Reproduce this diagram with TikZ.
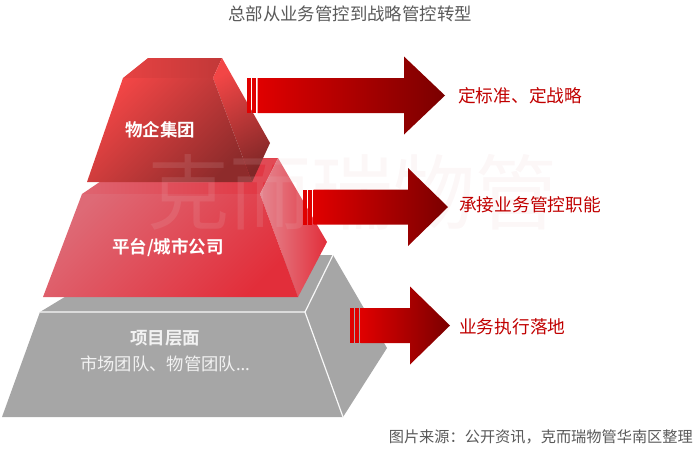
\documentclass[tikz,border=0pt]{standalone}
\usepackage{fontspec}
\setmainfont{Noto Sans CJK SC}[BoldFont={Noto Sans CJK SC Bold}]
\newfontfamily\latinfont{Noto Sans}
\usetikzlibrary{positioning}
\definecolor{arwred}{HTML}{E00000}
\definecolor{arwdark}{HTML}{7A0000}
\definecolor{txtred}{HTML}{C00000}
\definecolor{txtgray}{HTML}{595959}
\definecolor{lvlgray}{HTML}{A6A6A6}
\definecolor{wmpink}{HTML}{E8C4C8}
\definecolor{topred}{HTML}{F24646}
\definecolor{topdark}{HTML}{8E2B2B}
\definecolor{midpink}{HTML}{DE6A76}
\definecolor{midred}{HTML}{E22E3A}
\tikzset{
  x=1pt,y=1pt,
  ttl/.style={font=\fontsize{17.4}{20}\selectfont,text=txtgray,inner sep=0pt},
  srclbl/.style={font=\fontsize{15.2}{18}\selectfont,text=txtgray,inner sep=0pt,anchor=east},
  goallbl/.style={font=\fontsize{17.7}{20}\selectfont,text=txtred,inner sep=0pt,anchor=west},
  lvllbl/.style={font=\bfseries\fontsize{17.5}{20}\selectfont,text=white,inner sep=0pt},
  lvlsub/.style={font=\fontsize{17.3}{20}\selectfont,text=white!95!black,inner sep=0pt},
  wmark/.style={font=\fontsize{82}{90}\selectfont,text=wmpink,text opacity=0.14,inner sep=0pt},
  topfront/.style={top color=topred,bottom color=topdark,shading angle=45},
  toptop/.style={left color=topred!95!black,right color=topred!80!black},
  topside/.style={top color=topred,bottom color=topdark!90!black,shading angle=30},
  midfront/.style={top color=midpink,bottom color=midred,shading angle=45},
  midtop/.style={left color=midpink!90!midred,right color=midred!90!midpink},
  midside/.style={left color=midpink!80!white,right color=midred},
  grayface/.style={fill=lvlgray},
  grayedge/.style={draw=white!92!lvlgray,line width=1.2pt},
  arwbody/.style={left color=arwred,right color=arwdark},
  arwbar/.style={fill=arwred},
}

\begin{document}
\begin{tikzpicture}
  \useasboundingbox (0,0) rectangle (700,-448);
  \node[ttl] (title) at (350,-14) {总部从业务管控到战略管控转型};
  % bottom level
  \fill[grayface] (40,-312) -- (134,-255) -- (333,-255) -- (305,-312) -- cycle;
  \fill[grayface] (305,-312) -- (333,-255) -- (387,-348) -- (343,-417) -- cycle;
  \fill[grayface] (40,-312) -- (305,-312) -- (343,-417) -- (2,-417) -- cycle;
  \draw[grayedge] (40,-312) -- (305,-312) -- (343,-417) (305,-312) -- (333,-255);
  % middle level
  \shade[midtop] (82,-194) -- (135,-158) -- (278,-158) -- (260,-194) -- cycle;
  \shade[midside] (260,-194) -- (278,-158) -- (327,-242) -- (298,-297) -- cycle;
  \shade[midfront] (82,-194) -- (260,-194) -- (298,-297) -- (43,-297) -- cycle;
  % top level
  \shade[toptop] (123,-78) -- (148,-58) -- (222,-58) -- (213,-78) -- cycle;
  \shade[topside] (213,-78) -- (222,-58) -- (270,-143) -- (252,-182) -- cycle;
  \shade[topfront] (123,-78) -- (213,-78) -- (252,-182) -- (87,-182) -- cycle;
  \node[wmark] (wm) at (352,-192) {克而瑞物管};
  \node[lvllbl] (lvlA) at (160,-130) {物企集团};
  \node[lvllbl] (lvlB) at (168,-247) {平台/城市公司};
  \node[lvllbl,text=white!95!black] (lvlC) at (165,-338) {项目层面};
  \node[lvlsub] (lvlCsub) at (165,-364) {市场团队、物管团队{\latinfont …}};
  % arrows
  \foreach \bx/\hx/\tx/\cy in {247/404/445/95.5,303/408/448/207,350/410/450/325.5}{
    \fill[arwbar] ({\bx},{17.5-\cy}) rectangle ({\bx+3.5},{-17.5-\cy});
    \fill[arwbar] ({\bx+5},{17.5-\cy}) rectangle ({\bx+9},{-17.5-\cy});
    \shade[arwbody] ({\bx+10.5},{17.5-\cy}) -- ({\hx},{17.5-\cy}) -- ({\hx},{39-\cy})
      -- ({\tx},{-\cy}) -- ({\hx},{-39-\cy}) -- ({\hx},{-17.5-\cy})
      -- ({\bx+10.5},{-17.5-\cy}) -- cycle;
  }
  \node[goallbl] (goalA) at (458,-96) {定标准、定战略};
  \node[goallbl] (goalB) at (459,-205) {承接业务管控职能};
  \node[goallbl] (goalC) at (459,-327) {业务执行落地};
  \node[srclbl] (src) at (693,-437) {图片来源：公开资讯，克而瑞物管华南区整理};
\end{tikzpicture}
\end{document}
